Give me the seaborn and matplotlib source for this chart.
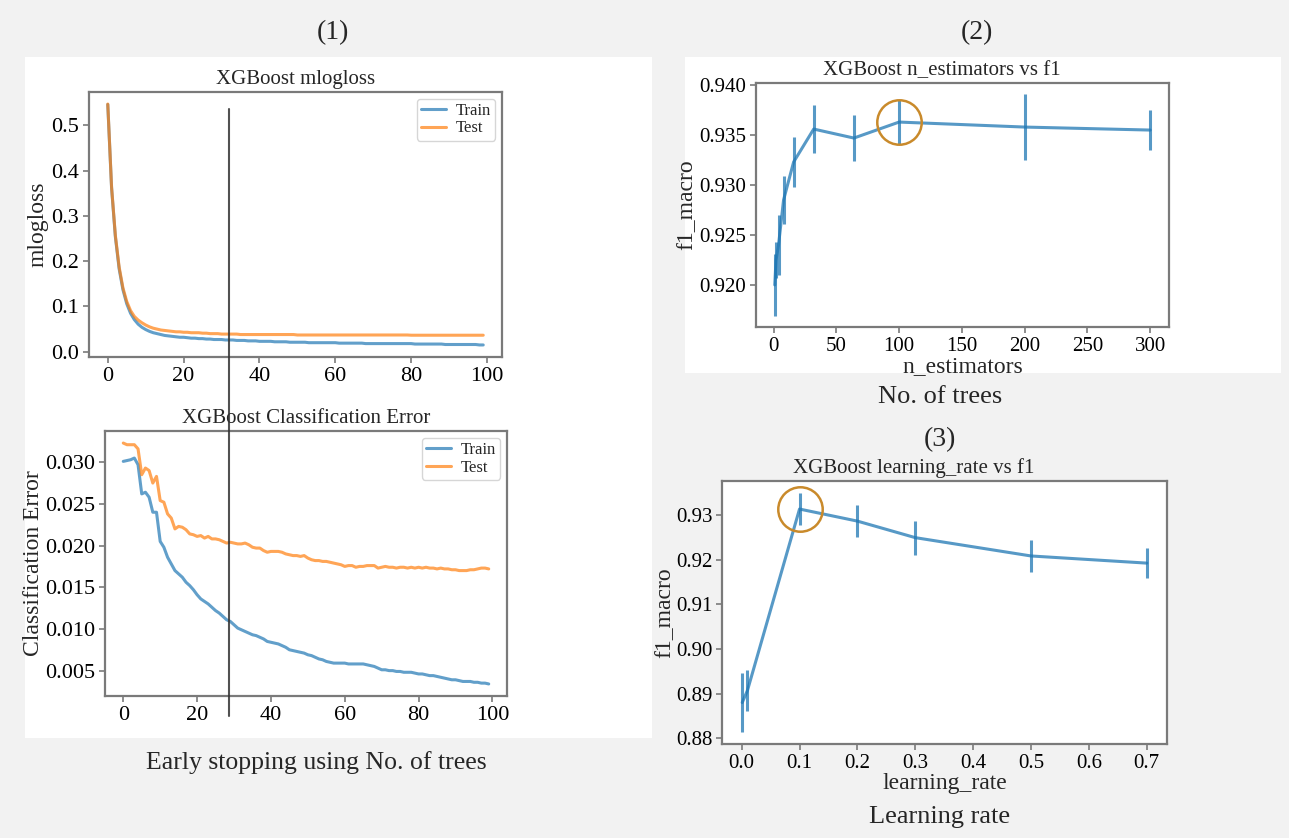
import numpy as np
import pandas as pd
import seaborn as sns
import matplotlib.pyplot as plt
from matplotlib.patches import Rectangle
from matplotlib.lines import Line2D
from matplotlib.ticker import FormatStrFormatter

sns.set_theme(style='ticks')
plt.rcParams['font.family'] = ['Liberation Serif', 'DejaVu Serif']

# ---- data ----
best_round = 32

train_mlogloss = [
    0.546, 0.362, 0.254, 0.183, 0.137, 0.106, 0.085, 0.071, 0.061, 0.054,
    0.049, 0.045, 0.042, 0.040, 0.038, 0.036, 0.035, 0.034, 0.033, 0.032,
    0.032, 0.031, 0.030, 0.030, 0.029, 0.029, 0.028, 0.028, 0.027, 0.027,
    0.027, 0.026, 0.026, 0.026, 0.025, 0.025, 0.025, 0.024, 0.024, 0.024,
    0.023, 0.023, 0.023, 0.023, 0.022, 0.022, 0.022, 0.022, 0.021, 0.021,
    0.021, 0.021, 0.021, 0.020, 0.020, 0.020, 0.020, 0.020, 0.020, 0.020,
    0.020, 0.019, 0.019, 0.019, 0.019, 0.019, 0.019, 0.019, 0.018, 0.018,
    0.018, 0.018, 0.018, 0.018, 0.018, 0.018, 0.018, 0.018, 0.018, 0.018,
    0.018, 0.017, 0.017, 0.017, 0.017, 0.017, 0.017, 0.017, 0.017, 0.016,
    0.016, 0.016, 0.016, 0.016, 0.016, 0.016, 0.016, 0.016, 0.015, 0.015,
]
test_mlogloss = [
    0.547, 0.364, 0.257, 0.187, 0.141, 0.111, 0.091, 0.078, 0.070, 0.064,
    0.059, 0.055, 0.052, 0.050, 0.048, 0.047, 0.046, 0.045, 0.044, 0.044,
    0.043, 0.043, 0.042, 0.042, 0.042, 0.041, 0.041, 0.040, 0.040, 0.040,
    0.039, 0.039, 0.039, 0.039, 0.039, 0.038, 0.038, 0.038, 0.038, 0.038,
    0.038, 0.038, 0.038, 0.038, 0.038, 0.038, 0.038, 0.038, 0.038, 0.038,
    0.037, 0.037, 0.037, 0.037, 0.037, 0.037, 0.037, 0.037, 0.037, 0.037,
    0.037, 0.037, 0.037, 0.037, 0.037, 0.037, 0.037, 0.037, 0.037, 0.037,
    0.037, 0.037, 0.037, 0.037, 0.037, 0.037, 0.037, 0.037, 0.037, 0.037,
    0.0365, 0.0365, 0.0365, 0.0365, 0.0365, 0.0365, 0.0365, 0.0365, 0.0365, 0.0365,
    0.0365, 0.0365, 0.0365, 0.0365, 0.0365, 0.0365, 0.0365, 0.0365, 0.0365, 0.0365,
]

train_error = [
    0.0301, 0.0302, 0.0303, 0.0305, 0.0297, 0.0262, 0.0264, 0.0258, 0.0240, 0.0240,
    0.0205, 0.0198, 0.0186, 0.0178, 0.0170, 0.0166, 0.0162, 0.0156, 0.0152, 0.0147,
    0.0141, 0.0136, 0.0133, 0.0130, 0.0126, 0.0122, 0.0119, 0.0115, 0.0111, 0.0109,
    0.0105, 0.0101, 0.0099, 0.0097, 0.0095, 0.0093, 0.0092, 0.0090, 0.0088, 0.0085,
    0.0084, 0.0083, 0.0082, 0.0080, 0.0078, 0.0075, 0.0074, 0.0073, 0.0072, 0.0071,
    0.0069, 0.0068, 0.0066, 0.0064, 0.0063, 0.0061, 0.0060, 0.0059, 0.0059, 0.0059,
    0.0059, 0.0058, 0.0058, 0.0058, 0.0058, 0.0058, 0.0057, 0.0056, 0.0055, 0.0053,
    0.0051, 0.0051, 0.0050, 0.0050, 0.0049, 0.0049, 0.0048, 0.0048, 0.0048, 0.0047,
    0.0046, 0.0046, 0.0045, 0.0044, 0.0044, 0.0043, 0.0042, 0.0041, 0.0040, 0.0039,
    0.0039, 0.0038, 0.0037, 0.0037, 0.0037, 0.0036, 0.0036, 0.0035, 0.0035, 0.0034,
]
test_error = [
    0.0323, 0.0321, 0.0321, 0.0321, 0.0316, 0.0285, 0.0293, 0.0290, 0.0275, 0.0283,
    0.0254, 0.0252, 0.0238, 0.0233, 0.0220, 0.0223, 0.0222, 0.0219, 0.0214, 0.0213,
    0.0211, 0.0212, 0.0209, 0.0211, 0.0208, 0.0208, 0.0207, 0.0205, 0.0203, 0.0204,
    0.0203, 0.0202, 0.0202, 0.0203, 0.0201, 0.0198, 0.0197, 0.0197, 0.0194, 0.0192,
    0.0193, 0.0193, 0.0193, 0.0192, 0.0190, 0.0189, 0.0188, 0.0188, 0.0187, 0.0188,
    0.0185, 0.0183, 0.0182, 0.0182, 0.0181, 0.0181, 0.0180, 0.0179, 0.0178, 0.0177,
    0.0175, 0.0176, 0.0176, 0.0174, 0.0175, 0.0175, 0.0176, 0.0176, 0.0176, 0.0173,
    0.0174, 0.0175, 0.0174, 0.0174, 0.0173, 0.0174, 0.0174, 0.0173, 0.0174, 0.0173,
    0.0174, 0.0173, 0.0174, 0.0173, 0.0173, 0.0172, 0.0173, 0.0172, 0.0172, 0.0171,
    0.0171, 0.0170, 0.0170, 0.0170, 0.0171, 0.0171, 0.0172, 0.0173, 0.0173, 0.0172,
]

n_estimators = [1, 2, 4, 8, 16, 32, 64, 100, 200, 300]
f1_trees = [0.9200, 0.9225, 0.9240, 0.9285, 0.9323, 0.9356, 0.9347, 0.9363, 0.9358, 0.9355]
f1_trees_err = [0.0031, 0.0018, 0.0030, 0.0024, 0.0025, 0.0024, 0.0023, 0.0022, 0.0033, 0.0020]

learning_rate = [0.001, 0.01, 0.1, 0.2, 0.3, 0.5, 0.7]
f1_lr = [0.8880, 0.8907, 0.9313, 0.9286, 0.9249, 0.9208, 0.9192]
f1_lr_err = [0.0066, 0.0046, 0.0036, 0.0035, 0.0038, 0.0035, 0.0034]

BLUE = '#1f77b4'
ORANGE = '#ff7f0e'
GOLD = '#c98a2b'
W, H = 1289, 838


def px_rect(x0, y0, x1, y1):
    # pixel box (top-left origin) -> figure fraction rect
    return [x0 / W, 1 - y1 / H, (x1 - x0) / W, (y1 - y0) / H]


def style_axes(ax, fs):
    for sp in ax.spines.values():
        sp.set_visible(True)
        sp.set_color('#7a7a7a')
        sp.set_linewidth(1.6)
    ax.tick_params(colors='#7a7a7a', labelcolor='black', length=4, width=1.2,
                   labelsize=fs, pad=3)
    ax.set_facecolor('white')


def curve_plot(ax, train, test, title, ylabel, label_x):
    df = pd.DataFrame({'round': np.arange(len(train)), 'Train': train, 'Test': test})
    long = df.melt(id_vars='round', var_name='set', value_name='value')
    sns.lineplot(data=long, x='round', y='value', hue='set',
                 palette={'Train': BLUE, 'Test': ORANGE}, linewidth=2.2,
                 alpha=0.7, ax=ax)
    ax.set_title(title, fontsize=15, pad=6)
    ax.set_ylabel(ylabel, fontsize=17)
    ax.yaxis.set_label_coords(label_x, 0.5)
    ax.set_xlabel('')
    ax.set_xticks(np.arange(0, 101, 20))
    leg = ax.legend(title=None, loc='upper right', fontsize=12, frameon=True,
                    handlelength=1.5, handletextpad=0.6, borderpad=0.25,
                    labelspacing=0.1, borderaxespad=0.4)
    leg.get_frame().set_edgecolor('#cccccc')
    style_axes(ax, 16)


def param_plot(ax, x, y, err, title, xlabel, title_x, label_x):
    sns.lineplot(x=x, y=y, color=BLUE, linewidth=2.2, alpha=0.75, ax=ax)
    ax.errorbar(x, y, yerr=err, fmt='none', ecolor=BLUE, elinewidth=2.2,
                alpha=0.75, capsize=0)
    best = int(np.argmax(y))
    ax.plot(x[best], y[best], marker='o', markersize=32, markerfacecolor='none',
            markeredgecolor=GOLD, markeredgewidth=1.8, linestyle='none')
    ax.set_title(title, fontsize=15, pad=6, x=title_x)
    ax.set_xlabel(xlabel, fontsize=17, labelpad=0)
    ax.set_ylabel('f1_macro', fontsize=17)
    ax.yaxis.set_label_coords(label_x, 0.5)
    style_axes(ax, 15)


fig = plt.figure(figsize=(W / 100, H / 100), dpi=100)
fig.patch.set_facecolor('#f2f2f2')
fig.add_artist(Rectangle((25 / W, 1 - 738 / H), (652 - 25) / W, (738 - 57) / H,
                         transform=fig.transFigure, facecolor='white',
                         edgecolor='none', zorder=0))
fig.add_artist(Rectangle((685 / W, 1 - 373 / H), (1281 - 685) / W, (373 - 57) / H,
                         transform=fig.transFigure, facecolor='white',
                         edgecolor='none', zorder=0))

ax1 = fig.add_axes(px_rect(89, 92, 502, 357))
curve_plot(ax1, train_mlogloss, test_mlogloss, 'XGBoost mlogloss', 'mlogloss', -0.097)
ax1.set_yticks(np.arange(0, 0.51, 0.1))
ax1.yaxis.set_major_formatter(FormatStrFormatter('%.1f'))

ax2 = fig.add_axes(px_rect(105, 431, 507, 696))
curve_plot(ax2, train_error, test_error, 'XGBoost Classification Error',
           'Classification Error', -0.152)
ax2.set_yticks(np.arange(0.005, 0.0301, 0.005))
ax2.yaxis.set_major_formatter(FormatStrFormatter('%.3f'))

ax3 = fig.add_axes(px_rect(756, 83, 1169, 327))
param_plot(ax3, n_estimators, f1_trees, f1_trees_err,
           'XGBoost n_estimators vs f1', 'n_estimators', 0.45, -0.142)
ax3.set_xticks(np.arange(0, 301, 50))
ax3.set_yticks(np.arange(0.920, 0.9401, 0.005))
ax3.yaxis.set_major_formatter(FormatStrFormatter('%.3f'))

ax4 = fig.add_axes(px_rect(722, 481, 1167, 744))
param_plot(ax4, learning_rate, f1_lr, f1_lr_err,
           'XGBoost learning_rate vs f1', 'learning_rate', 0.43, -0.106)
ax4.set_xticks(np.arange(0, 0.71, 0.1))
ax4.xaxis.set_major_formatter(FormatStrFormatter('%.1f'))
ax4.set_yticks(np.arange(0.88, 0.931, 0.01))
ax4.yaxis.set_major_formatter(FormatStrFormatter('%.2f'))

# early-stopping marker: one straight line through both left panels
fig.canvas.draw()
inv = fig.transFigure.inverted()
xd, ytop = ax1.transData.transform((best_round, 0.537))
xf, ytf = inv.transform((xd, ytop))
_, ybf = inv.transform(ax2.transAxes.transform((0, -0.075)))
fig.add_artist(Line2D([xf, xf], [ytf, ybf], transform=fig.transFigure,
                      color='#333333', linewidth=1.5, alpha=0.85, zorder=5))

# panel captions
fig.text(333 / W, 1 - 33 / H, '(1)', ha='center', va='center', fontsize=20)
fig.text(977 / W, 1 - 33 / H, '(2)', ha='center', va='center', fontsize=20)
fig.text(940 / W, 1 - 440 / H, '(3)', ha='center', va='center', fontsize=20)
fig.text(316 / W, 1 - 763 / H, 'Early stopping using No. of trees',
         ha='center', va='center', fontsize=18.5)
fig.text(940 / W, 1 - 397 / H, 'No. of trees', ha='center', va='center', fontsize=19)
fig.text(940 / W, 1 - 817 / H, 'Learning rate', ha='center', va='center', fontsize=19)

fig.savefig('out.png', dpi=100, facecolor=fig.get_facecolor())
